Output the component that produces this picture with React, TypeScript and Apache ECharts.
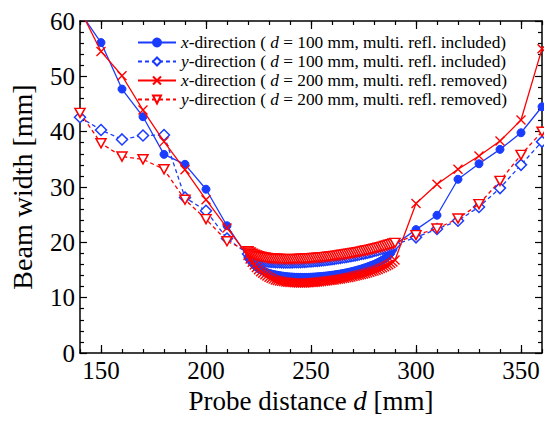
import React, { useEffect, useRef } from "react";
import * as echarts from "echarts";

const FONT = "Liberation Serif";
const BLUE = "#1a3cff";
const RED = "#ff0000";

// coarse sampling, left part (mm)
const leftX = [140, 150, 160, 170, 180, 190, 200, 210];
// fine sampling (1 mm) in the focal region
const denseX = [
  220, 221, 222, 223, 224, 225, 226, 227, 228, 229,
  230, 231, 232, 233, 234, 235, 236, 237, 238, 239,
  240, 241, 242, 243, 244, 245, 246, 247, 248, 249,
  250, 251, 252, 253, 254, 255, 256, 257, 258, 259,
  260, 261, 262, 263, 264, 265, 266, 267, 268, 269,
  270, 271, 272, 273, 274, 275, 276, 277, 278, 279,
  280, 281, 282, 283, 284, 285, 286, 287, 288, 289, 290,
];
// coarse sampling, right part (mm)
const rightX = [300, 310, 320, 330, 340, 350, 360];

// x-direction, d = 100 mm, multi. refl. included
const bxLeft = [61.6, 56.1, 47.7, 42.7, 35.9, 34.1, 29.6, 23.0];
const bxDense = [
  17.3, 16.8, 16.35, 15.95, 15.6, 15.3, 15.05, 14.85, 14.67, 14.52,
  14.4, 14.3, 14.2, 14.12, 14.05, 13.98, 13.92, 13.87, 13.82, 13.78,
  13.75, 13.72, 13.7, 13.68, 13.67, 13.66, 13.66, 13.66, 13.67, 13.68,
  13.7, 13.72, 13.74, 13.77, 13.8, 13.83, 13.87, 13.91, 13.95, 14.0,
  14.05, 14.1, 14.16, 14.22, 14.28, 14.35, 14.42, 14.5, 14.58, 14.67,
  14.76, 14.86, 14.96, 15.07, 15.18, 15.3, 15.43, 15.56, 15.7, 15.85,
  16.0, 16.17, 16.35, 16.55, 16.77, 17.0, 17.3, 17.65, 18.1, 18.75, 19.6,
];
const bxRight = [22.3, 24.9, 31.4, 34.2, 36.8, 39.8, 44.5];

// y-direction, d = 100 mm, multi. refl. included
const byLeft = [42.6, 40.3, 38.6, 39.3, 39.4, 28.1, 25.7, 20.7];
const byDense = [
  17.9, 17.55, 17.3, 17.1, 16.95, 16.83, 16.74, 16.66, 16.6, 16.55,
  16.5, 16.47, 16.44, 16.42, 16.4, 16.39, 16.38, 16.37, 16.37, 16.37,
  16.37, 16.38, 16.39, 16.4, 16.41, 16.43, 16.45, 16.47, 16.5, 16.53,
  16.56, 16.59, 16.62, 16.66, 16.7, 16.74, 16.78, 16.82, 16.87, 16.92,
  16.97, 17.02, 17.07, 17.13, 17.19, 17.25, 17.31, 17.37, 17.44, 17.51,
  17.58, 17.65, 17.73, 17.81, 17.89, 17.97, 18.06, 18.15, 18.24, 18.33,
  18.43, 18.53, 18.63, 18.74, 18.85, 18.96, 19.08, 19.2, 19.32, 19.45, 19.6,
];
const byRight = [20.9, 22.4, 23.9, 26.4, 29.8, 34.0, 38.2];

// x-direction, d = 200 mm, multi. refl. removed
const rxLeft = [62.1, 54.5, 50.1, 43.9, 38.2, 33.1, 27.7, 22.6];
const rxDense = [
  17.6, 17.0, 16.4, 15.9, 15.45, 15.05, 14.7, 14.4, 14.15, 13.9,
  13.7, 13.5, 13.35, 13.2, 13.1, 13.0, 12.95, 12.9, 12.85, 12.8,
  12.75, 12.72, 12.7, 12.68, 12.67, 12.66, 12.66, 12.67, 12.68, 12.7,
  12.72, 12.75, 12.78, 12.82, 12.86, 12.9, 12.95, 13.0, 13.05, 13.1,
  13.15, 13.2, 13.26, 13.32, 13.38, 13.45, 13.52, 13.59, 13.66, 13.74,
  13.82, 13.9, 13.99, 14.08, 14.17, 14.27, 14.37, 14.48, 14.59, 14.71,
  14.83, 14.96, 15.1, 15.25, 15.4, 15.57, 15.75, 15.95, 16.18, 16.45, 16.8,
];
const rxRight = [27.0, 30.5, 33.2, 35.6, 38.3, 42.1, 55.0];

// y-direction, d = 200 mm, multi. refl. removed
const ryLeft = [43.4, 37.9, 35.5, 35.0, 33.2, 27.7, 24.2, 20.2];
const ryDense = [
  18.4, 18.15, 17.95, 17.78, 17.63, 17.5, 17.4, 17.32, 17.25, 17.19,
  17.14, 17.1, 17.07, 17.04, 17.02, 17.0, 16.99, 16.98, 16.97, 16.97,
  16.97, 16.97, 16.98, 16.99, 17.0, 17.02, 17.04, 17.06, 17.08, 17.1,
  17.13, 17.16, 17.19, 17.22, 17.25, 17.29, 17.33, 17.37, 17.41, 17.45,
  17.5, 17.55, 17.6, 17.65, 17.7, 17.76, 17.82, 17.88, 17.94, 18.0,
  18.07, 18.14, 18.21, 18.28, 18.35, 18.43, 18.51, 18.59, 18.67, 18.76,
  18.85, 18.94, 19.03, 19.13, 19.23, 19.33, 19.44, 19.55, 19.66, 19.78, 19.9,
];
const ryRight = [21.3, 22.5, 24.3, 26.9, 31.1, 35.8, 40.0];

const xMajorTicks = [150, 200, 250, 300, 350];

const seriesNames = [
  "x-direction ( d = 100 mm, multi. refl. included)",
  "y-direction ( d = 100 mm, multi. refl. included)",
  "x-direction ( d = 200 mm, multi. refl. removed)",
  "y-direction ( d = 200 mm, multi. refl. removed)",
];
const legendRich = [
  "{i|x}-direction ( {i|d} = 100 mm, multi. refl. included)",
  "{i|y}-direction ( {i|d} = 100 mm, multi. refl. included)",
  "{i|x}-direction ( {i|d} = 200 mm, multi. refl. removed)",
  "{i|y}-direction ( {i|d} = 200 mm, multi. refl. removed)",
];

function join(l: number[], d: number[], r: number[]) {
  const out: number[][] = [];
  leftX.forEach((x, i) => out.push([x, l[i]]));
  denseX.forEach((x, i) => out.push([x, d[i]]));
  rightX.forEach((x, i) => out.push([x, r[i]]));
  return out;
}

const CROSS = "path://M0,0L10,10M10,0L0,10";

export default function App() {
  const ref = useRef<HTMLDivElement>(null);
  useEffect(() => {
    if (!ref.current) return;
    const chart = echarts.init(ref.current, undefined, { renderer: "svg" });
    const tickLine = { color: "#000", width: 1.2 };
    const axisLine = { show: true, lineStyle: { color: "#000", width: 1.5 } };
    const xBase = { type: "value", min: 140, max: 360, interval: 10, splitLine: { show: false } };
    const yBase = { type: "value", min: 0, max: 60, interval: 10, splitLine: { show: false } };
    const txt = { fontFamily: FONT, color: "#000" };
    const option: any = {
      animation: false,
      backgroundColor: "#fff",
      textStyle: { fontFamily: FONT },
      grid: { left: 78, right: 2, top: 21, bottom: 69, containLabel: false },
      legend: {
        show: true,
        orient: "vertical",
        left: 137,
        top: 33,
        padding: 0,
        itemWidth: 38,
        itemHeight: 10,
        itemGap: 0,
        selectedMode: false,
        data: seriesNames,
        formatter: (name: string) => legendRich[seriesNames.indexOf(name)],
        textStyle: {
          ...txt,
          fontSize: 17.3,
          lineHeight: 19,
          rich: {
            i: { ...txt, fontSize: 17.3, fontStyle: "italic", lineHeight: 19 },
          },
        },
      },
      xAxis: [
        {
          ...xBase,
          position: "bottom",
          axisLine,
          axisTick: { show: true, inside: true, length: 4, lineStyle: tickLine },
          axisLabel: {
            show: true,
            customValues: xMajorTicks,
            formatter: (v: number) => (v % 50 === 0 ? String(v) : ""),
            ...txt,
            fontSize: 25,
            margin: 5,
          },
          name: "Probe distance {i|d} [mm]",
          nameLocation: "middle",
          nameGap: 33,
          nameTextStyle: {
            ...txt,
            fontSize: 27,
            rich: { i: { ...txt, fontSize: 27, fontStyle: "italic" } },
          },
        },
        {
          ...xBase,
          position: "bottom",
          axisLine: { show: false },
          axisTick: { show: true, inside: true, length: 8, customValues: xMajorTicks, lineStyle: tickLine },
          axisLabel: { show: false },
        },
        {
          ...xBase,
          position: "top",
          axisLine,
          axisTick: { show: true, inside: true, length: 4, lineStyle: tickLine },
          axisLabel: { show: false },
        },
        {
          ...xBase,
          position: "top",
          axisLine: { show: false },
          axisTick: { show: true, inside: true, length: 8, customValues: xMajorTicks, lineStyle: tickLine },
          axisLabel: { show: false },
        },
      ],
      yAxis: [
        {
          ...yBase,
          position: "left",
          axisLine,
          axisTick: { show: true, inside: true, length: 7, lineStyle: tickLine },
          minorTick: { show: true, splitNumber: 5, length: 4, lineStyle: tickLine },
          minorSplitLine: { show: false },
          axisLabel: { show: true, ...txt, fontSize: 25, margin: 5 },
          name: "Beam width [mm]",
          nameLocation: "middle",
          nameGap: 44,
          nameTextStyle: { ...txt, fontSize: 28 },
        },
        {
          ...yBase,
          position: "right",
          axisLine,
          axisTick: { show: true, inside: true, length: 7, lineStyle: tickLine },
          minorTick: { show: true, splitNumber: 5, length: 4, lineStyle: tickLine },
          minorSplitLine: { show: false },
          axisLabel: { show: false },
        },
      ],
      series: [
        {
          name: seriesNames[0],
          type: "line",
          xAxisIndex: 0,
          yAxisIndex: 0,
          data: join(bxLeft, bxDense, bxRight),
          symbol: "circle",
          symbolSize: 8,
          showAllSymbol: true,
          clip: true,
          lineStyle: { color: BLUE, width: 1.3, type: "solid" },
          itemStyle: { color: BLUE, borderColor: BLUE, borderWidth: 1 },
          emphasis: { disabled: true },
          z: 2,
        },
        {
          name: seriesNames[1],
          type: "line",
          xAxisIndex: 0,
          yAxisIndex: 0,
          data: join(byLeft, byDense, byRight),
          symbol: "diamond",
          symbolSize: 11,
          showAllSymbol: true,
          clip: true,
          lineStyle: { color: BLUE, width: 1.3, type: [4, 3] },
          itemStyle: { color: "#fff", borderColor: BLUE, borderWidth: 1.5 },
          emphasis: { disabled: true },
          z: 3,
        },
        {
          name: seriesNames[2],
          type: "line",
          xAxisIndex: 0,
          yAxisIndex: 0,
          data: join(rxLeft, rxDense, rxRight),
          symbol: CROSS,
          symbolSize: 9,
          showAllSymbol: true,
          clip: true,
          lineStyle: { color: RED, width: 1.3, type: "solid" },
          itemStyle: { color: RED, borderColor: RED, borderWidth: 1.4 },
          emphasis: { disabled: true },
          z: 4,
        },
        {
          name: seriesNames[3],
          type: "line",
          xAxisIndex: 0,
          yAxisIndex: 0,
          data: join(ryLeft, ryDense, ryRight),
          symbol: "triangle",
          symbolRotate: 180,
          symbolSize: [10, 9],
          showAllSymbol: true,
          clip: true,
          lineStyle: { color: RED, width: 1.3, type: [4, 3] },
          itemStyle: { color: "#fff", borderColor: RED, borderWidth: 1.5 },
          emphasis: { disabled: true },
          z: 5,
        },
      ],
    };
    chart.setOption(option);
    return () => chart.dispose();
  }, []);
  return (
    <div
      ref={ref}
      style={{ position: "absolute", left: 0, top: 0, width: 544, height: 422, background: "#fff" }}
    />
  );
}
